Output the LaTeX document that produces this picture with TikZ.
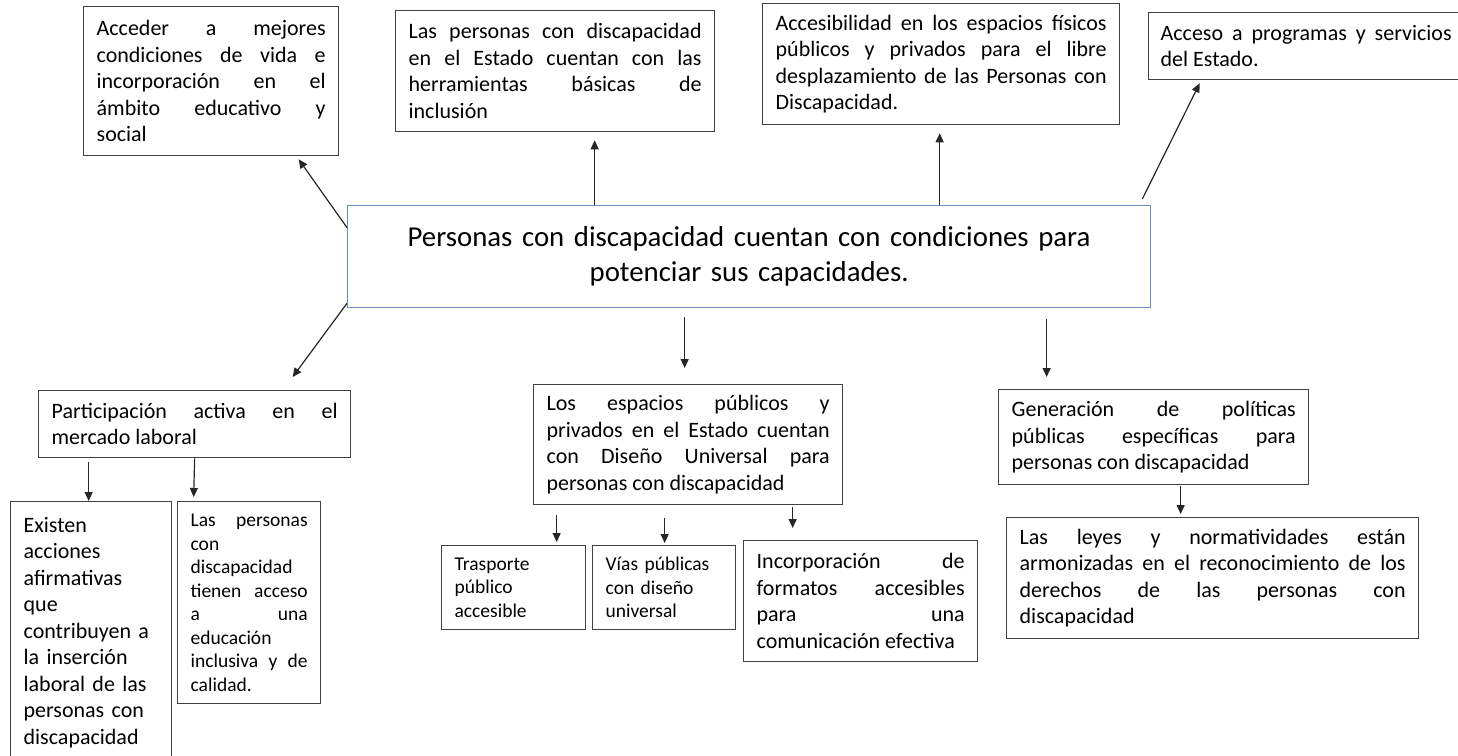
\documentclass[tikz,border=0pt]{standalone}
\usepackage{fontspec}
\setmainfont{Carlito}
\usetikzlibrary{arrows.meta,positioning}
\definecolor{mapblue}{RGB}{109,143,190}
\definecolor{mapgray}{RGB}{64,64,64}
\hyphenpenalty=10000
\exhyphenpenalty=10000
\tikzset{
    mapbox/.style={draw=mapgray, line width=1.3pt, anchor=north west, align=justify,
        inner xsep=13pt, inner ysep=0pt, font=\fontsize{22}{26.5}\selectfont},
    smallbox/.style={mapbox, font=\fontsize{19.5}{23.5}\selectfont},
    maparrow/.style={-{Triangle[length=9pt,width=8pt]}, line width=1.2pt, black!85}
}

\begin{document}
\begin{tikzpicture}[x=1pt, y=-1pt,
    mainbox/.style={mapbox, draw=mapblue, align=center, font=\fontsize{28.8}{35}\selectfont}
]
\useasboundingbox (0,0) rectangle (1458,755);
\node[mainbox, text width=777pt, minimum height=102pt] (central) at (347,205)
    {Personas con discapacidad cuentan con condiciones para\\potenciar sus capacidades.};
\node[mapbox, text width=229pt, minimum height=149pt] (acceder) at (83,6)
    {Acceder a mejores\linebreak condiciones de vida e\linebreak incorporación en el\linebreak ámbito educativo y\linebreak social};
\node[mapbox, text width=293pt, minimum height=121pt] (herr) at (395,10)
    {Las personas con discapacidad\linebreak en el Estado cuentan con las\linebreak herramientas básicas de\linebreak inclusión};
\node[mapbox, text width=331pt, minimum height=121pt] (access) at (762,3)
    {Accesibilidad en los espacios físicos\linebreak públicos y privados para el libre\linebreak desplazamiento de las Personas con\linebreak Discapacidad.};
\node[mapbox, inner xsep=12pt, text width=291pt, minimum height=67pt] (acceso) at (1148,12)
    {Acceso a programas y servicios\linebreak del Estado.};
\node[mapbox, text width=286pt, minimum height=67pt] (partic) at (38,390)
    {Participación activa en el\linebreak mercado laboral};
\node[mapbox, align=left, text width=135pt, minimum height=262pt] (existen) at (10,501)
    {Existen\\acciones\\afirmativas\\que\\contribuyen a\\la inserción\\laboral de las\\personas con\\discapacidad};
\node[smallbox, text width=117pt, minimum height=202pt] (tienen) at (177,501)
    {Las personas\linebreak con\linebreak discapacidad\linebreak tienen acceso\linebreak a una\linebreak educación\linebreak inclusiva y de\linebreak calidad.};
\node[mapbox, text width=283pt, minimum height=120pt] (espacios) at (533,384)
    {Los espacios públicos y\linebreak privados en el Estado cuentan\linebreak con Diseño Universal para\linebreak personas con discapacidad};
\node[smallbox, align=left, text width=118pt, minimum height=84pt] (trasp) at (441,545)
    {Trasporte\\público\\accesible};
\node[smallbox, align=left, text width=117pt, minimum height=84pt] (vias) at (592,545)
    {Vías públicas\\con diseño\\universal};
\node[mapbox, text width=208pt, minimum height=121pt] (incorp) at (743,540)
    {Incorporación de\linebreak formatos accesibles\linebreak para una\linebreak comunicación efectiva};
\node[mapbox, text width=284pt, minimum height=95pt] (gener) at (998,389)
    {Generación de políticas\linebreak públicas específicas para\linebreak personas con discapacidad};
\node[mapbox, text width=386pt, minimum height=121pt] (leyes) at (1006,517)
    {Las leyes y normatividades están\linebreak armonizadas en el reconocimiento de los\linebreak derechos de las personas con\linebreak discapacidad};
\draw[maparrow] ([yshift=29pt]central.west) -- ([xshift=87.5pt,yshift=-3pt]acceder.south);
\draw[maparrow] ([xshift=-154.5pt]central.north) -- ([xshift=39.5pt,yshift=-8pt]herr.south);
\draw[maparrow] ([xshift=190.5pt]central.north) -- ([xshift=-1.5pt,yshift=-8pt]access.south);
\draw[maparrow] ([xshift=-9pt,yshift=6pt]central.north east) -- ([xshift=-106.5pt,yshift=-3pt]acceso.south);
\draw[maparrow] ([yshift=5pt]central.south west) -- ([xshift=98pt,yshift=13pt]partic.north);
\draw[maparrow] ([xshift=-64.5pt,yshift=-9pt]central.south) -- ([xshift=-3.5pt,yshift=16pt]espacios.north);
\draw[maparrow] ([xshift=297.5pt,yshift=-11pt]central.south) -- ([xshift=-107pt,yshift=12pt]gener.north);
\draw[maparrow] ([xshift=-106pt,yshift=-4pt]partic.south) -- ([xshift=-2.5pt]existen.north);
\draw[maparrow] (partic.south) -- ([xshift=-55.5pt,yshift=4pt]tienen.north);
\draw[maparrow] ([xshift=-131.5pt,yshift=-10pt]espacios.south) -- ([xshift=43pt,yshift=3pt]trasp.north);
\draw[maparrow] ([xshift=-23.5pt,yshift=-13pt]espacios.south) -- ([xshift=0.5pt,yshift=2pt]vias.north);
\draw[maparrow] ([xshift=104.5pt,yshift=-2pt]espacios.south) -- ([xshift=-68pt,yshift=12pt]incorp.north);
\draw[maparrow] ([xshift=27pt,yshift=-1pt]gener.south) -- ([xshift=-32pt,yshift=3pt]leyes.north);
\end{tikzpicture}
\end{document}
